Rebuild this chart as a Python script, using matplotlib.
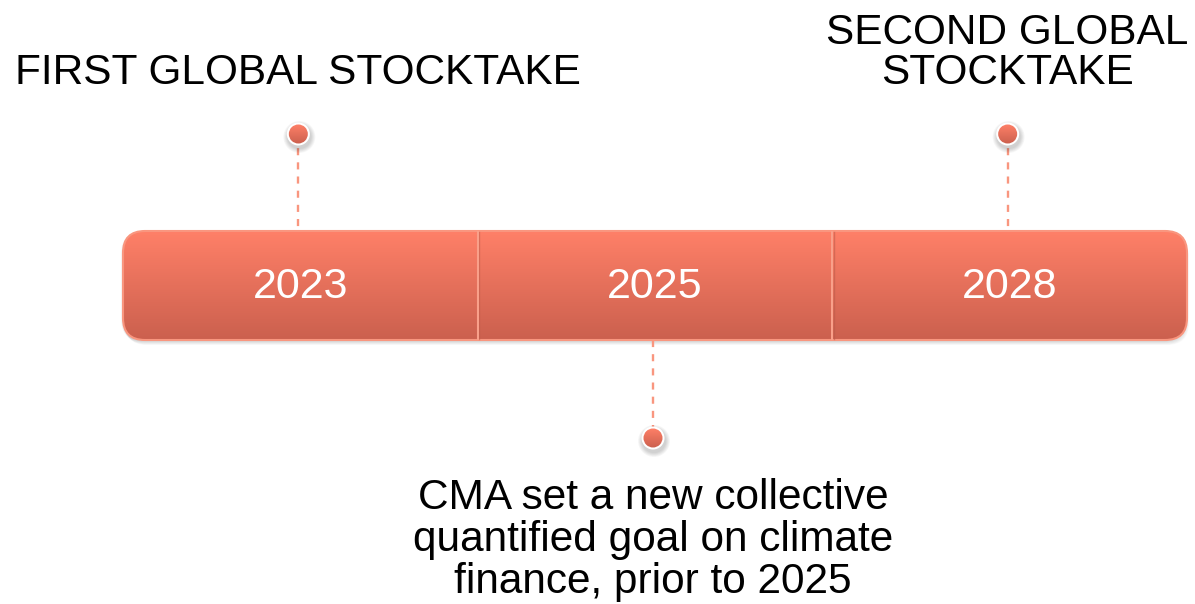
import matplotlib.pyplot as plt
import numpy as np
from matplotlib.patches import FancyBboxPatch, Circle

plt.rcParams['font.family'] = ['Liberation Sans', 'DejaVu Sans']

years = ['2023', '2025', '2028']
# which segment each event hangs from, and on which side of the bar
event_seg = [0, 2, 1]
event_side = ['top', 'top', 'bottom']
event_text = ['FIRST GLOBAL STOCKTAKE',
              'SECOND GLOBAL\nSTOCKTAKE',
              'CMA set a new collective\nquantified goal on climate\nfinance, prior to 2025']
event_text_y = [73, 53, 540]

W, H = 1195, 604
fig = plt.figure(figsize=(W / 100, H / 100), dpi=100)
ax = fig.add_axes([0, 0, 1, 1])
ax.set_xlim(0, W)
ax.set_ylim(H, 0)
ax.axis('off')

x0, x1 = 123, 1187
y0, y1 = 231, 340
seg_w = (x1 - x0) / len(years)
rad = 22

# soft shadow under the bar
for k in range(8):
    sh = FancyBboxPatch((x0 + 2 - k * 0.6, y0 + 5 - k * 0.6), x1 - x0, y1 - y0,
                        boxstyle='round,pad=0,rounding_size=%d' % rad,
                        fc='#000000', ec='none', alpha=0.025, zorder=1)
    ax.add_patch(sh)

bar = FancyBboxPatch((x0, y0), x1 - x0, y1 - y0,
                     boxstyle='round,pad=0,rounding_size=%d' % rad,
                     fc='none', ec='#F9967F', lw=1.5, zorder=3)
ax.add_patch(bar)

# vertical gradient inside the bar
grad = np.linspace(0, 1, 256).reshape(-1, 1)
top = np.array([255, 128, 104]) / 255
bot = np.array([203, 96, 78]) / 255
img = top + (bot - top) * grad[..., None]
img = np.repeat(img, 2, axis=1)
im = ax.imshow(img, extent=(x0, x1, y1, y0), aspect='auto', zorder=2)
im.set_clip_path(bar)

# dividers
for i in range(1, len(years)):
    xd = x0 + seg_w * i
    ax.plot([xd + 1.5, xd + 1.5], [y0 + 1, y1 - 1], color='#B85A48', lw=1, alpha=0.5, zorder=3)
    ax.plot([xd, xd], [y0 + 1, y1 - 1], color='#F9A08A', lw=1.5, zorder=3)

for i, yr in enumerate(years):
    ax.text(x0 + seg_w * (i + 0.5), (y0 + y1) / 2 + 1, yr, color='white',
            fontsize=31, ha='center', va='center', zorder=4)

# events
for seg, side, txt, ty in zip(event_seg, event_side, event_text, event_text_y):
    xc = x0 + seg_w * (seg + 0.5) - 2
    if side == 'top':
        yd = 134
        ax.plot([xc, xc], [yd, y0], color='#F9967F', lw=1.7, ls=(0, (3, 3)), zorder=1)
        ax.text(xc, ty, txt, fontsize=30.5, ha='center', va='center', linespacing=1.0,
                color='black')
    else:
        yd = 438
        ax.plot([xc, xc], [y1, yd], color='#F9967F', lw=1.7, ls=(0, (3, 3)), zorder=1)
        ax.text(xc, ty, txt, fontsize=30.5, ha='center', va='center', linespacing=1.08,
                color='black')
    for k in range(6):
        ax.add_patch(Circle((xc + 1, yd + 3), 12 + k * 0.8, fc='black', ec='none',
                            alpha=0.03, zorder=4))
    ax.add_patch(Circle((xc, yd), 11.5, fc='white', ec='none', zorder=5))
    dot = Circle((xc, yd), 9.5, fc='none', ec='none', zorder=6)
    ax.add_patch(dot)
    dim = ax.imshow(img, extent=(xc - 10, xc + 10, yd + 10, yd - 10), aspect='auto', zorder=6)
    dim.set_clip_path(dot)

ax.set_xlim(0, W)
ax.set_ylim(H, 0)
fig.savefig('out.png', dpi=100)
